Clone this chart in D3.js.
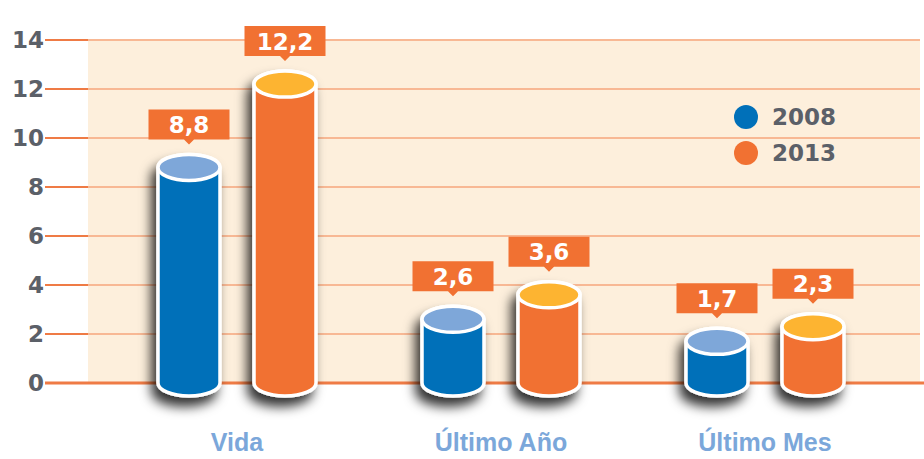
<!DOCTYPE html>
<html>
<head>
<meta charset="utf-8">
<script src="https://cdn.jsdelivr.net/npm/d3@7"></script>
<style>
  body { margin: 0; background: #fff; }
  svg { display: block; }
</style>
</head>
<body>
<svg id="chart" width="924" height="459"></svg>
<script>
// data
const categories = ['Vida', 'Último Año', 'Último Mes']
const years = ['2008', '2013']
const values2008 = [8.8, 2.6, 1.7]
const values2013 = [12.2, 3.6, 2.3]
const yTicks = [0, 2, 4, 6, 8, 10, 12, 14]

const colors = {
    '2008': { body: '#0070b9', top: '#7ea7d9' },
    '2013': { body: '#f17132', top: '#fdb431' }
}

const width = 924
const height = 459
const panel = { left: 88, right: 920 }
const boldFont = 'DejaVu Sans, Verdana, sans-serif'

const svg = d3.select('#chart')

const y = d3.scaleLinear().domain([0, 14]).range([383, 40])
const x = d3.scaleBand().domain(categories).range([105, 897])
const xSub = d3.scaleBand().domain(years).range([-96, 96])

// shadow filter
const defs = svg.append('defs')
const shadow = defs.append('filter').attr('id', 'shadow')
    .attr('x', '-50%').attr('y', '-50%').attr('width', '200%').attr('height', '200%')
shadow.append('feDropShadow')
    .attr('dx', -5).attr('dy', 9).attr('stdDeviation', 6)
    .attr('flood-color', '#000').attr('flood-opacity', 0.8)

// panel background
svg.append('rect')
    .attr('x', panel.left).attr('y', y(14))
    .attr('width', panel.right - panel.left).attr('height', y(0) - y(14))
    .attr('fill', '#fdefdc')

// gridlines
const grid = svg.append('g')
grid.selectAll('line.g')
    .data(yTicks)
    .enter().append('line')
    .attr('x1', panel.left).attr('x2', d => d == 0 ? width : panel.right)
    .attr('y1', d => y(d)).attr('y2', d => y(d))
    .attr('stroke', d => d == 0 ? '#ef7b45' : '#f8b894')
    .attr('stroke-width', d => d == 0 ? 3 : 2)

// tick stubs outside panel
grid.selectAll('line.t')
    .data(yTicks)
    .enter().append('line')
    .attr('x1', 45).attr('x2', panel.left)
    .attr('y1', d => y(d)).attr('y2', d => y(d))
    .attr('stroke', '#ef7b45')
    .attr('stroke-width', d => d == 0 ? 3 : 2)

// y labels
svg.append('g').selectAll('text')
    .data(yTicks)
    .enter().append('text')
    .attr('x', 44).attr('y', d => y(d))
    .attr('dy', '0.36em')
    .attr('text-anchor', 'end')
    .attr('font-family', boldFont)
    .attr('font-weight', 'bold')
    .attr('font-size', 23)
    .attr('fill', '#5b6068')
    .text(d => d)

// build bar data
const bars = []
categories.forEach((c, i) => {
    bars.push({ cat: c, year: '2008', value: values2008[i] })
    bars.push({ cat: c, year: '2013', value: values2013[i] })
})

const rx = 31
const ry = 13

const cylinder = svg.append('g').selectAll('g')
    .data(bars)
    .enter().append('g')
    .attr('transform', d => `translate(${x(d.cat) + x.bandwidth() / 2 + xSub(d.year) + xSub.bandwidth() / 2}, 0)`)

cylinder.append('path')
    .attr('filter', 'url(#shadow)')
    .attr('d', d => {
        const yt = y(d.value)
        const yb = y(0)
        return `M${-rx},${yt} L${-rx},${yb} A${rx},${ry} 0 0 0 ${rx},${yb} L${rx},${yt} A${rx},${ry} 0 0 0 ${-rx},${yt} Z`
    })
    .attr('fill', d => colors[d.year].body)
    .attr('stroke', '#fff')
    .attr('stroke-width', 3.5)

cylinder.append('ellipse')
    .attr('cx', 0).attr('cy', d => y(d.value))
    .attr('rx', rx).attr('ry', ry)
    .attr('fill', d => colors[d.year].top)
    .attr('stroke', '#fff')
    .attr('stroke-width', 3.5)

// value callouts
const boxW = 81
const boxH = 30
const callout = cylinder.append('g')
    .attr('transform', d => `translate(0, ${y(d.value) - ry - 15})`)

callout.append('path')
    .attr('d', `M${-boxW / 2},${-boxH} L${boxW / 2},${-boxH} L${boxW / 2},0 L5,0 L0,5 L-5,0 L${-boxW / 2},0 Z`)
    .attr('fill', '#f17132')

callout.append('text')
    .attr('x', 0).attr('y', -boxH / 2)
    .attr('dy', '0.37em')
    .attr('text-anchor', 'middle')
    .attr('font-family', boldFont)
    .attr('font-weight', 'bold')
    .attr('font-size', 23)
    .attr('fill', '#fff')
    .text(d => d3.format('.1f')(d.value).replace('.', ','))

// category labels
svg.append('g').selectAll('text')
    .data(categories)
    .enter().append('text')
    .attr('x', d => x(d) + x.bandwidth() / 2)
    .attr('y', 442)
    .attr('dy', '0.36em')
    .attr('text-anchor', 'middle')
    .attr('font-family', 'Liberation Sans, Arial, sans-serif')
    .attr('font-weight', 'bold')
    .attr('font-size', 25)
    .attr('fill', '#7ba7da')
    .text(d => d)

// legend
const legend = svg.append('g').selectAll('g')
    .data(years)
    .enter().append('g')
    .attr('transform', (d, i) => `translate(746, ${117 + i * 36})`)

legend.append('circle')
    .attr('r', 12)
    .attr('fill', d => colors[d].body)

legend.append('text')
    .attr('x', 26).attr('dy', '0.36em')
    .attr('font-family', boldFont)
    .attr('font-weight', 'bold')
    .attr('font-size', 23)
    .attr('fill', '#5b6068')
    .text(d => d)
</script>
</body>
</html>
